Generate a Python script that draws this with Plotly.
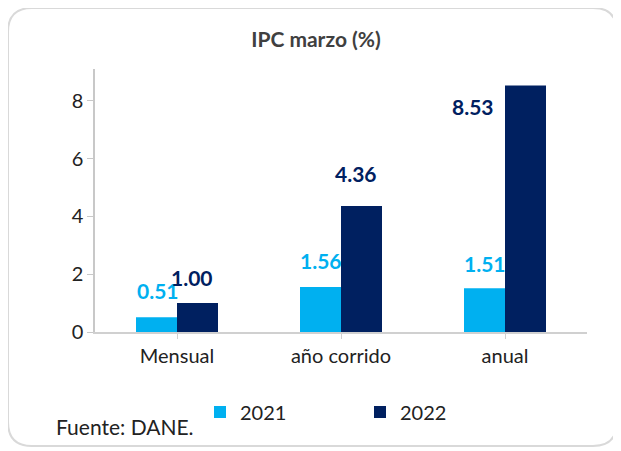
import plotly.graph_objects as go

categories = ["Mensual", "año corrido", "anual"]
values_2021 = [0.51, 1.56, 1.51]
values_2022 = [1.00, 4.36, 8.53]
series_names = ["2021", "2022"]
y_ticks = [0, 2, 4, 6, 8]

C21 = "#00B0F0"
C22 = "#002060"
FONT = "Lato"
TXT = "#222222"

# page body adds an 8px margin; figure is sized to fill the rest of the window
W, H = 613, 443
ML, MR, MT, MB = 87, 34, 61, 119
PW, PH = W - ML - MR, H - MT - MB


def px(xp):
    return (xp - ML) / PW


def py(yp):
    return (H - MB - yp) / PH


fig = go.Figure()
fig.add_trace(go.Bar(x=categories, y=values_2021, name=series_names[0],
                     marker=dict(color=C21, line=dict(width=0))))
fig.add_trace(go.Bar(x=categories, y=values_2022, name=series_names[1],
                     marker=dict(color=C22, line=dict(width=0))))

# label placement offsets (pixels) relative to bar centre / top
off21 = [(1, 27), (0, 26), (0, 25)]
off22 = [(-6, 26), (-6, 32), (-53, -21)]
half = 20.5
for vals, color, offs, sign in [(values_2021, C21, off21, -1), (values_2022, C22, off22, 1)]:
    for c, v, (dx, dy) in zip(categories, vals, offs):
        fig.add_annotation(x=c, y=v, xref="x", yref="y", text=f"<b>{v:.2f}</b>",
                           showarrow=False, xshift=sign * half + dx, yshift=dy,
                           font=dict(family=FONT, size=21, color=color))

fig.add_annotation(text="Fuente: DANE.", xref="paper", yref="paper", x=px(46), y=py(419),
                   xanchor="left", yanchor="middle", showarrow=False,
                   font=dict(family=FONT, size=21, color=TXT))

# rounded card outline
x0, x1, y0, y1, r = 0, 609, 0, 438, 24
path = (f"M {px(x0 + r)},{py(y0)} L {px(x1 - r)},{py(y0)} "
        f"Q {px(x1)},{py(y0)} {px(x1)},{py(y0 + r)} L {px(x1)},{py(y1 - r)} "
        f"Q {px(x1)},{py(y1)} {px(x1 - r)},{py(y1)} L {px(x0 + r)},{py(y1)} "
        f"Q {px(x0)},{py(y1)} {px(x0)},{py(y1 - r)} L {px(x0)},{py(y0 + r)} "
        f"Q {px(x0)},{py(y0)} {px(x0 + r)},{py(y0)} Z")
fig.add_shape(type="path", xref="paper", yref="paper", path=path,
              line=dict(color="#D9D9D9", width=2), layer="below")

fig.update_layout(
    width=W, height=H,
    margin=dict(l=ML, r=MR, t=MT, b=MB),
    paper_bgcolor="white", plot_bgcolor="white",
    barmode="group", bargap=0.5, bargroupgap=0,
    title=dict(text="<b>IPC marzo (%)</b>", x=px(308), xanchor="center", y=(H - 32) / H,
               yanchor="middle", xref="paper",
               font=dict(family=FONT, size=21, color="#404040")),
    font=dict(family=FONT, size=20, color=TXT),
    showlegend=True,
    legend=dict(orientation="h", x=px(192), xanchor="left", y=py(404), yanchor="middle",
                entrywidth=115, entrywidthmode="pixels", itemwidth=30,
                font=dict(family=FONT, size=20, color=TXT), bgcolor="rgba(0,0,0,0)"),
    xaxis=dict(showline=True, linecolor="#D0D0D0", linewidth=1.5, ticks="outside",
               tickcolor="#D0D0D0", ticklen=5, showgrid=False, zeroline=False,
               tickfont=dict(family=FONT, size=20, color=TXT)),
    yaxis=dict(range=[0, 9.1], tickvals=y_ticks, showline=True, linecolor="#C8C8C8",
               linewidth=1.5, ticks="outside", tickcolor="#C8C8C8", ticklen=6,
               showgrid=False, zeroline=False,
               tickfont=dict(family=FONT, size=20, color=TXT)),
)

fig.write_html("out.html")
